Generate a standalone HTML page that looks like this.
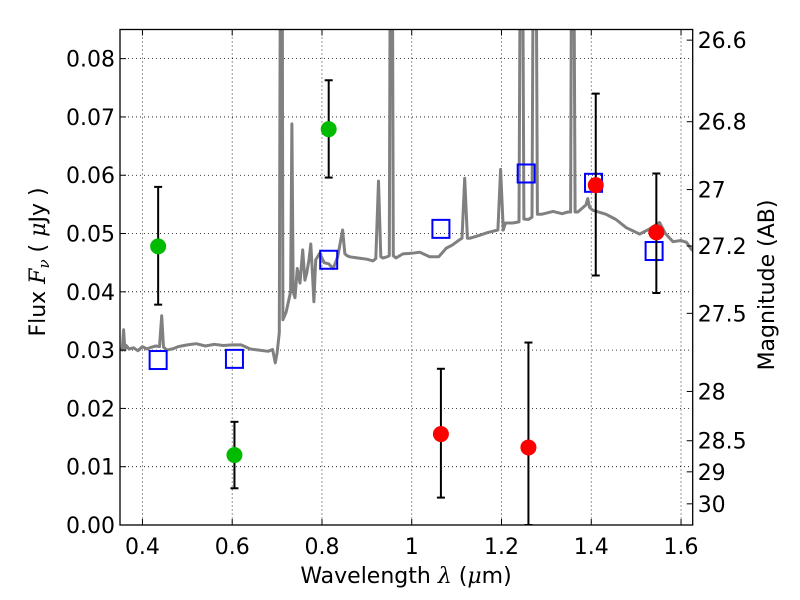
<!DOCTYPE html>
<html><head><meta charset="utf-8"><style>
html,body{margin:0;padding:0;background:#fff;}
svg{display:block;font-family:"DejaVu Sans","Liberation Sans",sans-serif;}
</style></head><body>
<svg id="chart" width="800" height="600" viewBox="0 0 800 600">
<defs><clipPath id="clip"><rect x="120" y="29.5" width="572.7" height="495.5"/></clipPath></defs>
<g id="grid"></g>
<g id="spec" clip-path="url(#clip)"></g>
<g id="marks" clip-path="url(#clip)"></g>
<rect x="120" y="29.5" width="572.7" height="495.5" fill="none" stroke="#000" stroke-width="1.3"/>
<g id="axes"></g>
<text x="406" y="583" font-size="22" text-anchor="middle">Wavelength  <tspan font-style="italic" font-family="DejaVu Serif, serif">λ</tspan> (<tspan font-style="italic" font-family="DejaVu Serif, serif">μ</tspan>m)</text>
<text transform="translate(45,262) rotate(-90)" font-size="22" text-anchor="middle">Flux  <tspan font-style="italic" font-family="DejaVu Serif, serif">F<tspan font-size="15" dy="4">ν</tspan></tspan><tspan dy="-4">  ( </tspan><tspan font-style="italic" font-family="DejaVu Serif, serif">μ</tspan>Jy )</text>
<text transform="translate(774,285) rotate(-90)" font-size="22" text-anchor="middle">Magnitude (AB)</text>
</svg>
<script>
const xTicks = [0.4, 0.6, 0.8, 1.0, 1.2, 1.4, 1.6];
const xTickLabels = ["0.4", "0.6", "0.8", "1", "1.2", "1.4", "1.6"];
const yTicks = [0, 0.01, 0.02, 0.03, 0.04, 0.05, 0.06, 0.07, 0.08];
const yTickLabels = ["0.00", "0.01", "0.02", "0.03", "0.04", "0.05", "0.06", "0.07", "0.08"];
const magTicks = [26.6, 26.8, 27, 27.2, 27.5, 28, 28.5, 29, 30];
const magTickLabels = ["26.6", "26.8", "27", "27.2", "27.5", "28", "28.5", "29", "30"];
const specWave = [0.35,0.355,0.358,0.361,0.364,0.37,0.38,0.39,0.40,0.41,0.42,0.43,0.438,0.443,0.447,0.455,0.47,0.48,0.50,0.52,0.54,0.56,0.58,0.60,0.62,0.64,0.66,0.68,0.69,0.696,0.700,0.705,0.708,0.711,0.713,0.72,0.726,0.730,0.733,0.736,0.740,0.745,0.751,0.757,0.762,0.766,0.771,0.775,0.779,0.782,0.786,0.795,0.805,0.815,0.825,0.835,0.846,0.851,0.856,0.862,0.88,0.90,0.914,0.920,0.926,0.931,0.936,0.945,0.950,0.953,0.956,0.959,0.965,0.98,1.0,1.018,1.04,1.06,1.077,1.09,1.106,1.112,1.118,1.124,1.13,1.151,1.17,1.192,1.198,1.204,1.209,1.225,1.239,1.243,1.246,1.250,1.26,1.268,1.272,1.276,1.280,1.289,1.315,1.335,1.348,1.354,1.357,1.360,1.364,1.37,1.388,1.392,1.396,1.403,1.433,1.455,1.478,1.508,1.530,1.552,1.565,1.582,1.600,1.612,1.624,1.63];
const specFlux = [0.0303,0.0300,0.0335,0.0300,0.0308,0.0302,0.0304,0.0299,0.0306,0.0302,0.0305,0.0307,0.0306,0.0359,0.0305,0.0300,0.0303,0.0306,0.0309,0.0311,0.0307,0.0310,0.0308,0.0309,0.0309,0.0302,0.0300,0.0298,0.0301,0.0278,0.0295,0.0330,0.12,0.12,0.0352,0.0365,0.0386,0.0400,0.0688,0.0400,0.0390,0.0440,0.0415,0.0472,0.0420,0.0432,0.0455,0.0482,0.0430,0.0383,0.0455,0.0466,0.0450,0.0448,0.0440,0.0460,0.0506,0.0465,0.0462,0.0460,0.0458,0.0456,0.0453,0.0457,0.0590,0.0460,0.0458,0.0460,0.0462,0.12,0.12,0.0462,0.0458,0.0465,0.0466,0.0468,0.0460,0.0460,0.0475,0.0480,0.0489,0.0492,0.0595,0.0492,0.0492,0.0497,0.0502,0.0506,0.0610,0.0506,0.0518,0.0518,0.0520,0.12,0.12,0.0525,0.0524,0.0528,0.12,0.12,0.0533,0.0533,0.0538,0.0534,0.0537,0.0537,0.12,0.12,0.0537,0.0537,0.0549,0.0560,0.0545,0.0540,0.0533,0.0524,0.0510,0.0499,0.0508,0.0519,0.0500,0.0486,0.0488,0.0485,0.0472,0.0470];
const photWave = [0.435, 0.605, 0.815];
const photFlux = [0.0478, 0.0120, 0.0679];
const photLo = [0.0378, 0.0063, 0.0596];
const photHi = [0.0580, 0.0177, 0.0763];
const limWave = [1.065, 1.26, 1.41, 1.545];
const limFlux = [0.0156, 0.0133, 0.0583, 0.0502];
const limLo = [0.0047, 0.0, 0.0428, 0.0398];
const limHi = [0.0268, 0.0313, 0.0740, 0.0603];
const modelWave = [0.435, 0.605, 0.815, 1.065, 1.255, 1.405, 1.54];
const modelFlux = [0.0283, 0.0285, 0.0455, 0.0508, 0.0603, 0.0587, 0.0470];

const NS = "http://www.w3.org/2000/svg";
const L = 120, R = 692.7, T = 29.5, B = 525;
const xMin = 0.35, xMax = 1.626, yMin = 0, yMax = 0.085;
function xs(v){ return L + (v - xMin) / (xMax - xMin) * (R - L); }
function ys(v){ return B - (v - yMin) / (yMax - yMin) * (B - T); }
function magToFlux(m){ return Math.pow(10, (23.9 - m) / 2.5); }
function mk(tag, attrs, parent){ const e = document.createElementNS(NS, tag); for (const k in attrs) e.setAttribute(k, attrs[k]); parent.appendChild(e); return e; }

const grid = document.getElementById('grid');
const axes = document.getElementById('axes');
xTicks.forEach((v, i) => {
  const x = xs(v);
  const g = mk('line', {x1:x, x2:x, y1:T, y2:B, stroke:'#000', 'stroke-width':0.8, 'stroke-dasharray':'1,3'}, grid);
  
  
  mk('line', {x1:x, x2:x, y1:B, y2:B-6, stroke:'#000', 'stroke-width':1}, axes);
  mk('line', {x1:x, x2:x, y1:T, y2:T+6, stroke:'#000', 'stroke-width':1}, axes);
  const t = mk('text', {x:x, y:B+29, 'font-size':22, 'text-anchor':'middle'}, axes);
  t.textContent = xTickLabels[i];
  
  
});
yTicks.forEach((v, i) => {
  const y = ys(v);
  if (v > 0) {
    const g = mk('line', {x1:L, x2:R, y1:y, y2:y, stroke:'#000', 'stroke-width':0.8, 'stroke-dasharray':'1,3'}, grid);
    
    
  }
  mk('line', {x1:L, x2:L+6, y1:y, y2:y, stroke:'#000', 'stroke-width':1}, axes);
  const t = mk('text', {x:L-5, y:y+8, 'font-size':22, 'text-anchor':'end'}, axes);
  t.textContent = yTickLabels[i];
  
  
});
magTicks.forEach((m, i) => {
  const y = ys(magToFlux(m));
  mk('line', {x1:R-6, x2:R, y1:y, y2:y, stroke:'#000', 'stroke-width':1}, axes);
  const t = mk('text', {x:R+5, y:y+8, 'font-size':22, 'text-anchor':'start'}, axes);
  t.textContent = magTickLabels[i];
  
  
});

const spec = document.getElementById('spec');
const pts = specWave.map((w, i) => xs(w).toFixed(1) + ',' + ys(specFlux[i]).toFixed(1)).join(' ');
const pl = mk('polyline', {points:pts, fill:'none', stroke:'#808080', 'stroke-width':3, 'stroke-linejoin':'round'}, spec);



const marks = document.getElementById('marks');
function errBar(w, lo, hi){
  const x = xs(w);
  mk('line', {x1:x, x2:x, y1:ys(lo), y2:ys(hi), stroke:'#000', 'stroke-width':2}, marks);
  mk('line', {x1:x-4, x2:x+4, y1:ys(lo), y2:ys(lo), stroke:'#000', 'stroke-width':2}, marks);
  mk('line', {x1:x-4, x2:x+4, y1:ys(hi), y2:ys(hi), stroke:'#000', 'stroke-width':2}, marks);
}
modelWave.forEach((w, i) => {
  const s = mk('rect', {x:xs(w)-8.5, y:ys(modelFlux[i])-9, width:17, height:18, fill:'none', stroke:'#0000ff', 'stroke-width':2}, marks);
  
  
});
photWave.forEach((w, i) => {
  errBar(w, photLo[i], photHi[i]);
  const c = mk('circle', {cx:xs(w), cy:ys(photFlux[i]), r:8, fill:'#00bb00'}, marks);
  
  
});
limWave.forEach((w, i) => {
  errBar(w, limLo[i], limHi[i]);
  const c = mk('circle', {cx:xs(w), cy:ys(limFlux[i]), r:8, fill:'#ff0000'}, marks);
  
  
});
</script>
</body></html>
